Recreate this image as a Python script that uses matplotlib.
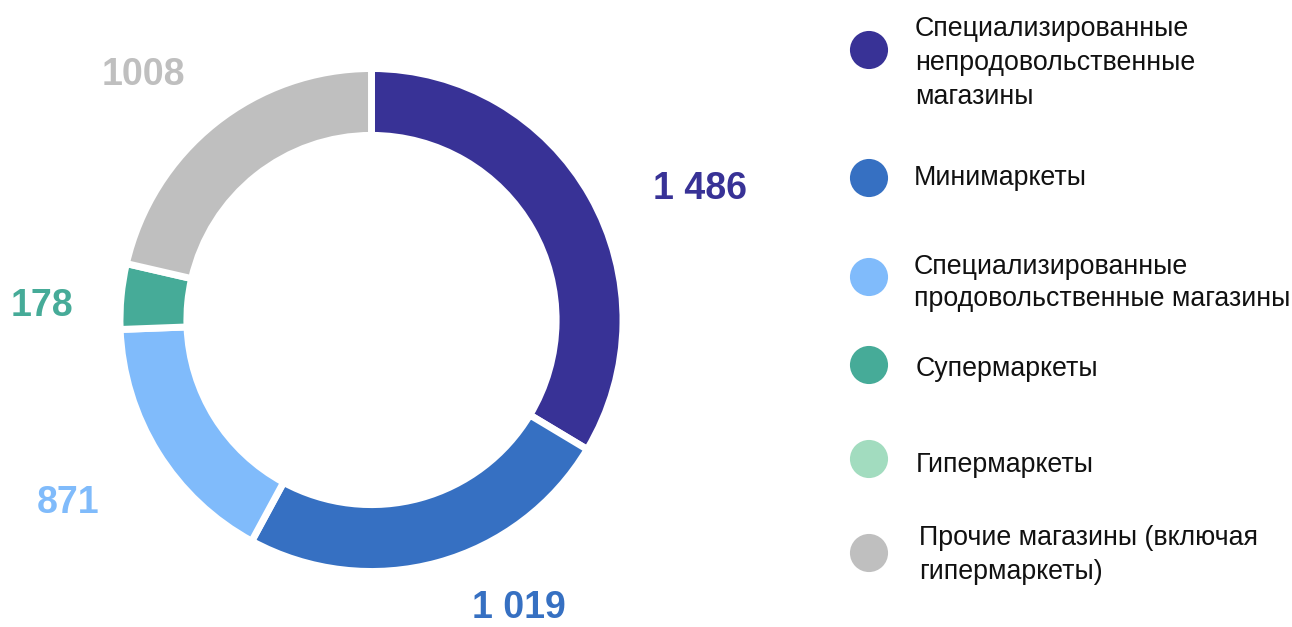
import matplotlib
matplotlib.use("Agg")
import matplotlib.pyplot as plt

plt.rcParams['font.family'] = ['Liberation Sans', 'DejaVu Sans']

categories = [
    "Специализированные\nнепродовольственные\nмагазины",
    "Минимаркеты",
    "Специализированные\nпродовольственные магазины",
    "Супермаркеты",
    "Гипермаркеты",
    "Прочие магазины (включая\nгипермаркеты)",
]
values = [1486, 1019, 871, 178, 0, 1008]
# share of the ring drawn for each category (%)
ring_shares = [33.6, 24.3, 16.5, 4.2, 0.0, 21.4]
value_labels = ["1 486", "1 019", "871", "178", "", "1008"]
colors = ["#383296", "#3670c2", "#80bbfb", "#46ab98", "#a2dcbf", "#bfbfbf"]

W, H = 1292, 627
fig = plt.figure(figsize=(W / 100, H / 100), dpi=100)

cx, cy, R = 371.5, 320, 251.5
ax = fig.add_axes([(cx - R) / W, (H - cy - R) / H, 2 * R / W, 2 * R / H])
pie_vals = [s for s in ring_shares if s > 0]
pie_cols = [c for s, c in zip(ring_shares, colors) if s > 0]
ax.pie(pie_vals, colors=pie_cols, startangle=90, counterclock=False, radius=1,
       wedgeprops=dict(width=0.266, edgecolor="white", linewidth=5))
ax.set_xlim(-1, 1)
ax.set_ylim(-1, 1)
ax.set_aspect("equal")
ax.axis("off")

# value label positions (pixels in figure, from top-left)
label_px = [(700, 189), (519, 608), (68, 503), (42, 306), None, (143, 75)]
for lab, pos, col in zip(value_labels, label_px, colors):
    if pos is None or not lab:
        continue
    x = (pos[0] - cx) / R
    y = (cy - pos[1]) / R
    ax.text(x, y, lab, color=col, fontsize=27, fontweight="bold",
            ha="center", va="center", clip_on=False)

# legend
leg = fig.add_axes([0, 0, 1, 1])
leg.set_xlim(0, W)
leg.set_ylim(H, 0)
leg.axis("off")
marker_y = [50, 178, 277, 365, 459, 553]
text_y = [63, 178, 283, 369, 465, 555]
text_x = [915, 914, 914, 916, 916, 919]
spacings = [1.38, 1.0, 1.28, 1.0, 1.0, 1.36]
for cat, col, my, ty, tx, ls in zip(categories, colors, marker_y, text_y, text_x, spacings):
    leg.scatter([869], [my], s=37 ** 2 * 0.55, color=col, edgecolors="none")
    leg.text(tx, ty, cat, fontsize=19.3, ha="left", va="center", color="#111111",
             linespacing=ls)

fig.savefig("out.png", dpi=100)
